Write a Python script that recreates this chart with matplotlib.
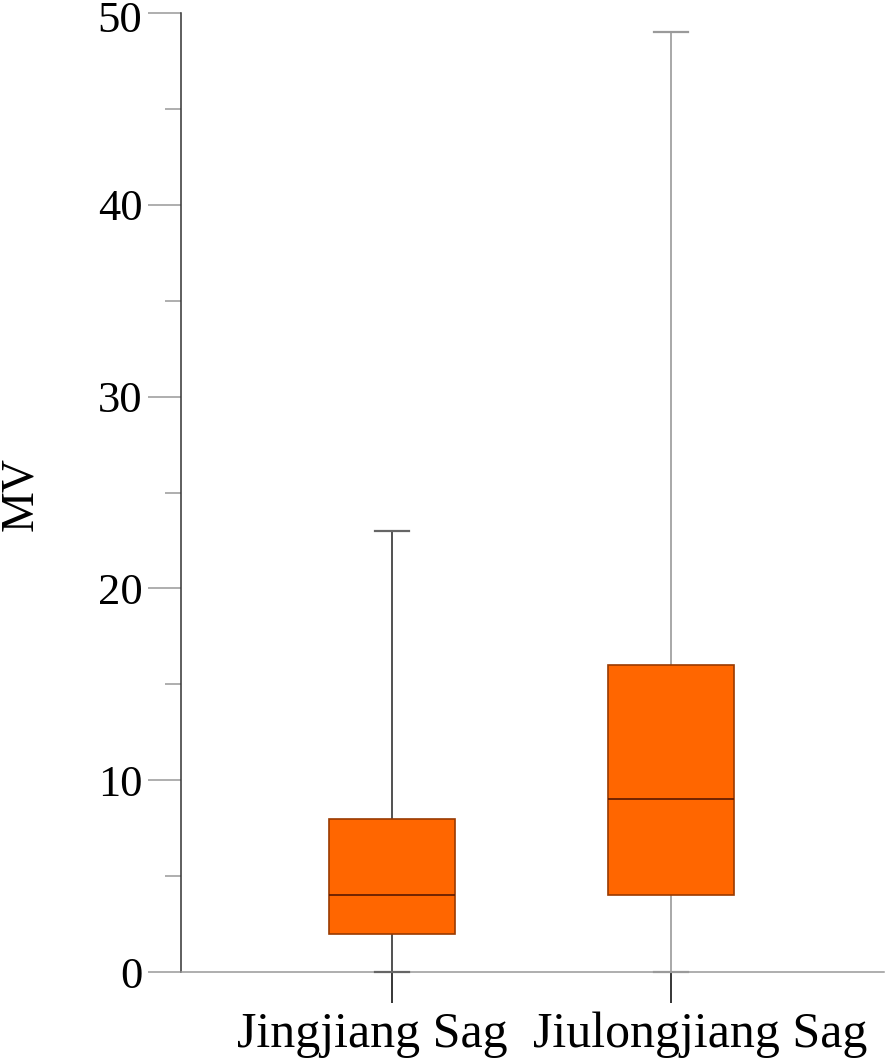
import matplotlib
matplotlib.use("Agg")
import matplotlib.pyplot as plt
from matplotlib.ticker import MultipleLocator
import matplotlib.transforms as mtransforms

categories = ["Jingjiang Sag", "Jiulongjiang Sag"]
whisker_low = [0, 0]
q1 = [2, 4]
median = [4, 9]
q3 = [8, 16]
whisker_high = [23, 49]
y_ticks = [0, 10, 20, 30, 40, 50]

plt.rcParams['font.family'] = ['Liberation Serif', 'DejaVu Serif']

fig = plt.figure(figsize=(8.86, 10.59), dpi=100)
ax = fig.add_axes([181/886, 87/1059, 703/886, 959/1059])

stats = []
for i, c in enumerate(categories):
    stats.append(dict(label=c, whislo=whisker_low[i], q1=q1[i], med=median[i],
                      q3=q3[i], whishi=whisker_high[i], fliers=[]))

positions = [1, 2]
bp = ax.bxp(stats, positions=positions, widths=0.45, capwidths=0.122,
            patch_artist=True, showfliers=False)
whisk_colors = ["#333333", "#999999"]
cap_colors = ["#666666", "#9a9a9a"]
for i, box in enumerate(bp['boxes']):
    box.set_facecolor("#FF6600")
    box.set_edgecolor("#9A3A00")
    box.set_linewidth(1.2)
    box.set_zorder(3)
for i, med in enumerate(bp['medians']):
    med.set_color("#5A1800")
    med.set_linewidth(1.2)
    med.set_zorder(4)
for j, w in enumerate(bp['whiskers']):
    w.set_color(whisk_colors[j // 2])
    w.set_linewidth(1.2)
    w.set_clip_on(False)
for j, cp in enumerate(bp['caps']):
    cp.set_color(cap_colors[j // 2])
    cp.set_linewidth(1.6)
    cp.set_clip_on(False)
    cp.set_zorder(5)

ax.set_xlim(0.244, 2.763)
ax.set_ylim(0, 50)
ax.set_yticks(y_ticks)
ax.yaxis.set_minor_locator(MultipleLocator(5))
ax.set_xticks(positions)
ax.set_xticklabels([])
ax.tick_params(axis='y', which='major', length=23.8, width=1.1, color="#999999",
               labelsize=32, pad=4)
ax.tick_params(axis='y', which='minor', length=11.5, width=1.1, color="#999999")
ax.tick_params(axis='x', which='major', length=22, width=1.1, pad=6)
for i, tl in enumerate(ax.xaxis.get_ticklines()[::2]):
    tl.set_color(whisk_colors[i])

# keep the top tick label just inside the canvas
fig.canvas.draw()
top_lbl = ax.yaxis.get_majorticklabels()[-1]
top_lbl.set_transform(top_lbl.get_transform() +
                      mtransforms.ScaledTranslation(0, -4 / 100, fig.dpi_scale_trans))

# category labels (offset from tick positions as in the reference)
label_offsets_px = [-20, 29]
for i, c in enumerate(categories):
    trans = ax.get_xaxis_transform() + mtransforms.ScaledTranslation(
        label_offsets_px[i] / 100, -40 / 100, fig.dpi_scale_trans)
    ax.text(positions[i], 0, c, transform=trans, ha='center', va='top',
            fontsize=36, clip_on=False)

for s in ['top', 'right']:
    ax.spines[s].set_visible(False)
ax.spines['left'].set_color("#333333")
ax.spines['left'].set_linewidth(1.1)
ax.spines['bottom'].set_color("#999999")
ax.spines['bottom'].set_linewidth(1.1)

fig.text(21/886, 1 - 494/1059, "MV", rotation=90, ha='center', va='center',
         fontsize=33)

fig.savefig("out.png", dpi=100)
